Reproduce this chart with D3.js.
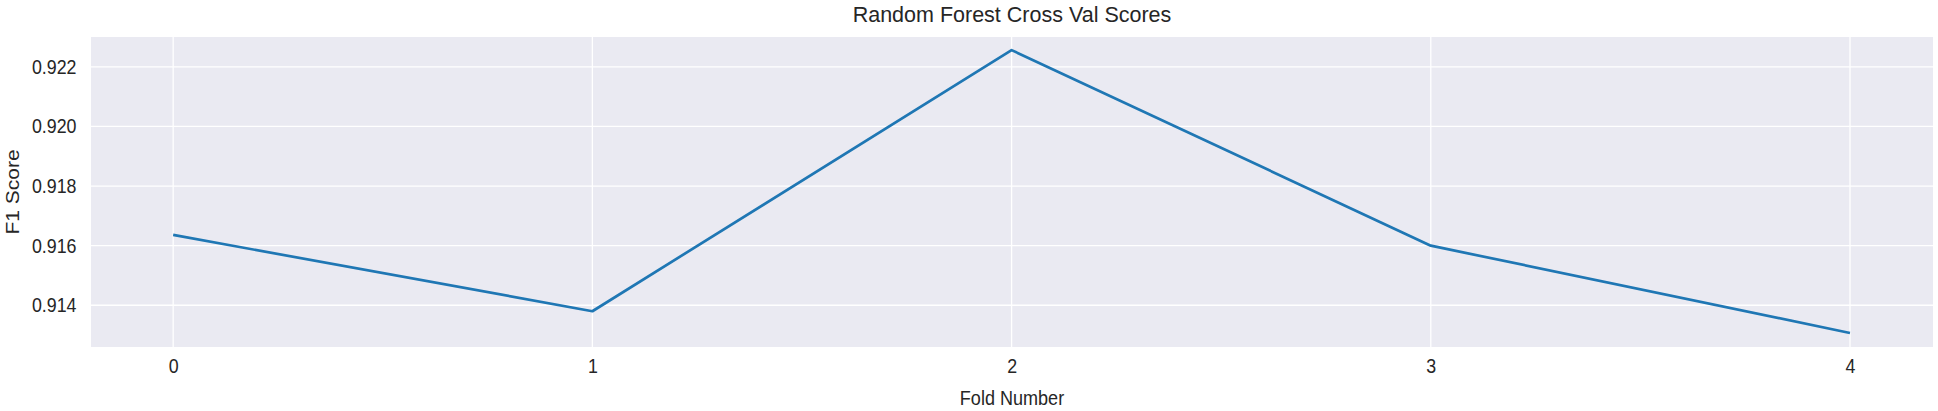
<!DOCTYPE html>
<html>
<head>
<meta charset="utf-8">
<script src="https://cdn.jsdelivr.net/npm/d3@7"></script>
<style>
  html, body { margin: 0; padding: 0; background: #ffffff; }
  svg { display: block; }
  text { font-family: "Liberation Sans", Arial, sans-serif; fill: #262626; }
</style>
</head>
<body>
<svg id="chart" width="1938" height="411"></svg>
<script>
const folds = [0, 1, 2, 3, 4];
const f1Scores = [0.91636, 0.91380, 0.92256, 0.91600, 0.91307];
const xTicks = [0, 1, 2, 3, 4];
const yTicks = [0.914, 0.916, 0.918, 0.920, 0.922];
const titleText = "Random Forest Cross Val Scores";
const xLabel = "Fold Number";
const yLabel = "F1 Score";

const W = 1938, H = 411;
const margin = { left: 91, right: 5, top: 37, bottom: 64 };
const svg = d3.select("#chart");

const x = d3.scaleLinear().domain([-0.196, 4.198]).range([margin.left, W - margin.right]);
const y = d3.scaleLinear().domain([0.91260, 0.92300]).range([H - margin.bottom, margin.top]);

svg.append("rect")
  .attr("x", x.range()[0]).attr("y", y.range()[1])
  .attr("width", x.range()[1] - x.range()[0])
  .attr("height", y.range()[0] - y.range()[1])
  .attr("fill", "#eaeaf2");

// grid
const g = svg.append("g");
g.selectAll("line.gx").data(xTicks).join("line")
  .attr("x1", d => x(d)).attr("x2", d => x(d))
  .attr("y1", y.range()[1]).attr("y2", y.range()[0])
  .attr("stroke", "#ffffff").attr("stroke-width", 1.3);
g.selectAll("line.gy").data(yTicks).join("line")
  .attr("y1", d => y(d)).attr("y2", d => y(d))
  .attr("x1", x.range()[0]).attr("x2", x.range()[1])
  .attr("stroke", "#ffffff").attr("stroke-width", 1.3);

// axes (no tick marks, no domain)
const SX = 0.89;
const xAxis = d3.axisBottom(x).tickValues(xTicks).tickFormat(d3.format("d")).tickSize(0).tickPadding(12);
const yAxis = d3.axisLeft(y).tickValues(yTicks).tickFormat(d3.format(".3f")).tickSize(0).tickPadding(14);

const gx = svg.append("g").attr("transform", `translate(0,${y.range()[0]})`).call(xAxis);
const gy = svg.append("g").attr("transform", `translate(${x.range()[0]},0)`).call(yAxis);
[gx, gy].forEach(a => {
  a.select(".domain").remove();
  a.selectAll("text").style("font-family", "\"Liberation Sans\", Arial, sans-serif")
    .style("font-size", "20px").attr("fill", "#262626")
    .attr("transform", `scale(${SX},1)`);
});
gy.selectAll("text").attr("x", -14.5 / SX);

// line
svg.append("path")
  .datum(folds.map((f, i) => [f, f1Scores[i]]))
  .attr("fill", "none")
  .attr("stroke", "#1f77b4")
  .attr("stroke-width", 2.7)
  .attr("stroke-linejoin", "round")
  .attr("stroke-linecap", "butt")
  .attr("d", d3.line().x(d => x(d[0])).y(d => y(d[1])));

// title & labels
const cx = (x.range()[0] + x.range()[1]) / 2;
svg.append("text")
  .attr("x", cx).attr("y", 22)
  .attr("text-anchor", "middle").style("font-size", "21.5px")
  .text(titleText);

svg.append("text")
  .attr("transform", `translate(${cx},405) scale(0.86,1)`)
  .attr("text-anchor", "middle").style("font-size", "21px")
  .text(xLabel);

svg.append("text")
  .attr("transform", `translate(19,${(y.range()[0] + y.range()[1]) / 2}) rotate(-90) scale(1,0.86)`)
  .attr("text-anchor", "middle").style("font-size", "21px")
  .text(yLabel);
</script>
</body>
</html>
